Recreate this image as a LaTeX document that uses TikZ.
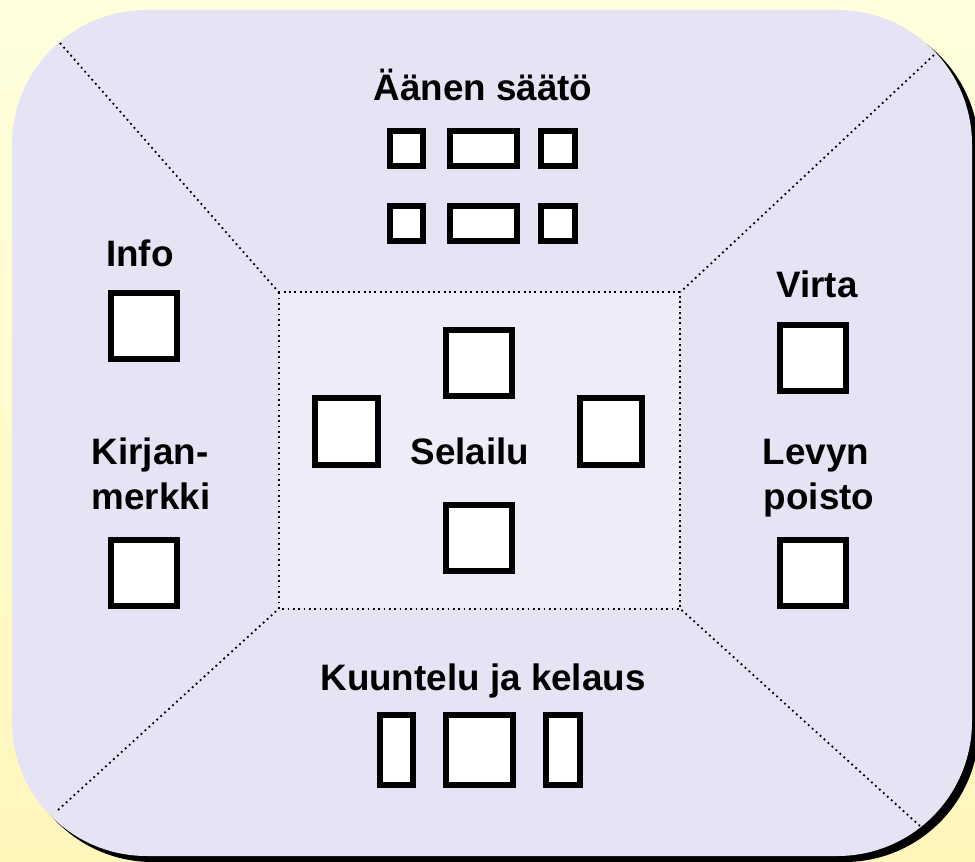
\documentclass[tikz,border=0pt]{standalone}
\usepackage{fontspec}
\setmainfont{Liberation Sans}
\definecolor{bgtop}{HTML}{FFFFDD}
\definecolor{bgbot}{HTML}{FFF6BC}
\definecolor{lav}{HTML}{E5E3F4}
\definecolor{lavin}{HTML}{EEECF8}
\begin{document}
\begin{tikzpicture}[x=0.75pt,y=-0.75pt,
  lbl/.style={font=\fontsize{27.6}{33}\selectfont\bfseries, anchor=base, inner sep=0pt},
  btn/.style={draw=black, line width=4.5pt, fill=white, inner sep=0pt, rectangle},
  big/.style={btn, minimum width=49.5pt, minimum height=49.5pt},
  dotline/.style={line width=1.35pt, dash pattern=on 1.35pt off 2.65pt}]
\useasboundingbox (0,0) rectangle (975,862);
\shade[top color=bgtop, bottom color=bgbot] (0,0) rectangle (975,862);
% shadow and panel
\begin{scope}
\clip (0,0) rectangle (975,862);
\fill[black, rounded corners=101pt] (18,16) rectangle (979,862);
\fill[lav, rounded corners=101pt] (12,10) rectangle (972,856);
\end{scope}
% inner square
\node[draw=none, fill=lavin, inner sep=0pt, minimum width=300.75pt, minimum height=237pt] (inner) at (479.5,450.5) {};
\draw[dotline] (inner.north west) rectangle (inner.south east);
\coordinate (ctl) at (60,43);
\coordinate (ctr) at (934,55);
\coordinate (cbl) at (58,810);
\coordinate (cbr) at (920,826);
\draw[dotline] (ctl) -- (inner.north west);
\draw[dotline] (ctr) -- (inner.north east);
\draw[dotline] (cbl) -- (inner.south west);
\draw[dotline] (cbr) -- (inner.south east);
% labels
\node[lbl] (aanen) at (483,101) {Äänen säätö};
\node[lbl] (kuunt) at (483,691) {Kuuntelu ja kelaus};
\node[lbl] (info) at (140,267) {Info};
\node[lbl] (virta) at (817,298) {Virta};
\node[lbl] (kirj1) at (150,465) {Kirjan-};
\node[lbl] (kirj2) at (151,510) {merkki};
\node[lbl] (levy1) at (816,465) {Levyn};
\node[lbl] (levy2) at (819,510) {poisto};
\node[lbl] (selailu) at (470,465) {Selailu};
% volume buttons
\node[btn, minimum width=24.75pt, minimum height=26.25pt] (v1) at (406.5,148.5) {};
\node[btn, minimum width=50.25pt, minimum height=26.25pt] (v2) at (483.5,148.5) {};
\node[btn, minimum width=25.5pt, minimum height=26.25pt] (v3) at (558,148.5) {};
\node[btn, minimum width=24.75pt, minimum height=26.25pt] (v4) at (406.5,223.5) {};
\node[btn, minimum width=50.25pt, minimum height=26.25pt] (v5) at (483.5,223.5) {};
\node[btn, minimum width=25.5pt, minimum height=26.25pt] (v6) at (558,223.5) {};
% play buttons
\node[btn, minimum width=24.75pt, minimum height=52.5pt] (p1) at (396.5,750) {};
\node[btn, minimum width=50.25pt, minimum height=52.5pt] (p2) at (479.5,750) {};
\node[btn, minimum width=25.5pt, minimum height=52.5pt] (p3) at (563,750) {};
% side buttons
\node[big] (binfo) at (144,326) {};
\node[big] (bkirj) at (144,573) {};
\node[big] (bvirta) at (813,358) {};
\node[big] (blevy) at (813,573) {};
% navigation
\node[big] (nup) at (479,363) {};
\node[big, minimum width=47.25pt, minimum height=50.25pt] (nleft) at (346.5,431.5) {};
\node[big, minimum width=46.5pt, minimum height=50.25pt] (nright) at (611,431.5) {};
\node[big] (ndown) at (479,538) {};
\end{tikzpicture}
\end{document}
